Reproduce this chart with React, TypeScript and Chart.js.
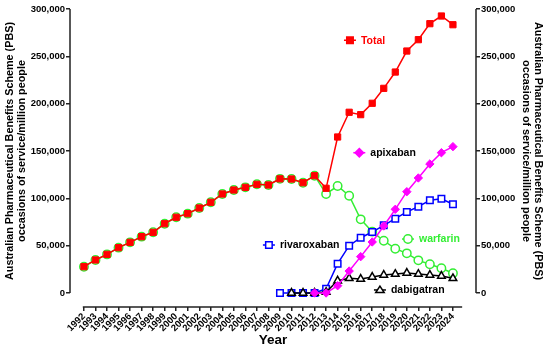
import React, { useEffect, useRef } from 'react';
import { Chart, registerables } from 'chart.js';

Chart.register(...registerables);

const years = [
  1992, 1993, 1994, 1995, 1996, 1997, 1998, 1999, 2000, 2001, 2002, 2003, 2004, 2005, 2006, 2007,
  2008, 2009, 2010, 2011, 2012, 2013, 2014, 2015, 2016, 2017, 2018, 2019, 2020, 2021, 2022, 2023, 2024,
];

const total = [
  27800, 34900, 40800, 47900, 53500, 59500, 64100, 73200, 80000, 83800, 89800, 95800, 104600, 108800,
  111600, 114800, 114100, 120600, 120400, 116500, 123900, 110600, 164800, 190900, 188400, 200400,
  216200, 233400, 255600, 267600, 284500, 292600, 283400,
];

const warfarin = [
  27800, 34900, 40800, 47900, 53500, 59500, 64100, 73200, 80000, 83800, 89800, 95800, 104600, 108800,
  111600, 114800, 114100, 120600, 120400, 116500, 123900, 104600, 113000, 102800, 77800, 64800,
  55200, 46800, 41900, 34500, 30300, 26100, 20800,
];

const rivaroxaban = [
  null, null, null, null, null, null, null, null, null, null, null, null, null, null, null, null,
  null, 0, 0, 0, 0, 4500, 31000, 50000, 58400, 64400, 71500, 78500, 85600, 91200, 97900, 99600, 93700,
];

const apixaban = [
  null, null, null, null, null, null, null, null, null, null, null, null, null, null, null, null,
  null, null, null, null, 0, 0, 7700, 23200, 38400, 53900, 70800, 88400, 107000, 121500, 136300,
  148200, 154600,
];

const dabigatran = [
  null, null, null, null, null, null, null, null, null, null, null, null, null, null, null, null,
  null, null, 0, 0, 0, 1000, 13000, 15500, 14800, 16900, 19000, 20000, 21100, 20000, 19000, 18000, 15500,
];

const yTicks = [0, 50000, 100000, 150000, 200000, 250000, 300000];
const yTitle = ['Australian Pharmaceutical Benefits Scheme (PBS)', 'occasions of service/million people'];
const xTitle = 'Year';

const RED = '#ff0000';
const GREEN = '#33ee33';
const BLUE = '#0000ff';
const MAGENTA = '#ff00ff';
const BLACK = '#000000';
const AXIS = '#222222';
const FONT = "'Liberation Sans', Arial, sans-serif";

type Note = { text: string; year: number; value: number; color: string; textColor: string; shape: string; fill: boolean };

const notes: Note[] = [
  { text: 'Total', year: 2015.07, value: 267000, color: RED, textColor: RED, shape: 'rect', fill: true },
  { text: 'apixaban', year: 2015.88, value: 148200, color: MAGENTA, textColor: BLACK, shape: 'rectRot', fill: true },
  { text: 'rivaroxaban', year: 2008.04, value: 50700, color: BLUE, textColor: BLACK, shape: 'rect', fill: false },
  { text: 'warfarin', year: 2020.1, value: 57000, color: GREEN, textColor: GREEN, shape: 'circle', fill: false },
  { text: 'dabigatran', year: 2017.67, value: 3200, color: BLACK, textColor: BLACK, shape: 'triangle', fill: false },
];

function toPoints(vals: (number | null)[]) {
  return years.map((y, i) => ({ x: y, y: vals[i] }));
}

function shapePath(ctx: CanvasRenderingContext2D, shape: string, x: number, y: number, r: number) {
  ctx.beginPath();
  if (shape === 'rect') {
    const s = r * Math.SQRT1_2;
    ctx.rect(x - s, y - s, 2 * s, 2 * s);
  } else if (shape === 'rectRot') {
    ctx.moveTo(x, y - r);
    ctx.lineTo(x + r, y);
    ctx.lineTo(x, y + r);
    ctx.lineTo(x - r, y);
    ctx.closePath();
  } else if (shape === 'circle') {
    ctx.arc(x, y, r, 0, Math.PI * 2);
  } else {
    const h = r * 1.5;
    ctx.moveTo(x, y - h * 0.6);
    ctx.lineTo(x + r, y + h * 0.4);
    ctx.lineTo(x - r, y + h * 0.4);
    ctx.closePath();
  }
}

const decorPlugin = {
  id: 'decor',
  afterDraw(chart: any) {
    const ctx: CanvasRenderingContext2D = chart.ctx;
    const xs = chart.scales.x;
    const ys = chart.scales.y;
    const area = chart.chartArea;
    const y0 = ys.getPixelForValue(0);
    const yTop = ys.getPixelForValue(300000);
    ctx.save();
    ctx.strokeStyle = AXIS;
    ctx.lineWidth = 1.5;
    ctx.beginPath();
    ctx.moveTo(area.left, yTop);
    ctx.lineTo(area.left, y0);
    ctx.moveTo(area.right, yTop);
    ctx.lineTo(area.right, y0);
    ctx.moveTo(xs.getPixelForValue(1991.9), area.bottom);
    ctx.lineTo(xs.getPixelForValue(2024.8), area.bottom);
    ctx.stroke();

    // y titles
    ctx.fillStyle = BLACK;
    ctx.font = `bold 10.8px ${FONT}`;
    ctx.textAlign = 'center';
    ctx.textBaseline = 'middle';
    const cy = (y0 + yTop) / 2;
    ctx.save();
    ctx.translate(10, cy);
    ctx.rotate(-Math.PI / 2);
    ctx.fillText(yTitle[0], 0, 0);
    ctx.fillText(yTitle[1], 0, 12);
    ctx.restore();
    ctx.save();
    ctx.translate(538, cy);
    ctx.rotate(Math.PI / 2);
    ctx.fillText(yTitle[0], 0, 0);
    ctx.fillText(yTitle[1], 0, 12);
    ctx.restore();

    // inline legend labels
    ctx.font = `bold 10.5px ${FONT}`;
    ctx.textAlign = 'left';
    for (const n of notes) {
      const px = xs.getPixelForValue(n.year);
      const py = ys.getPixelForValue(n.value);
      ctx.strokeStyle = n.color;
      ctx.lineWidth = 1.5;
      ctx.beginPath();
      ctx.moveTo(px - 6, py);
      ctx.lineTo(px + 6, py);
      ctx.stroke();
      shapePath(ctx, n.shape, px, py, n.shape === 'rect' ? 4.6 : 4.2);
      ctx.fillStyle = n.fill ? n.color : '#ffffff';
      ctx.fill();
      ctx.stroke();
      ctx.fillStyle = n.textColor;
      ctx.fillText(n.text, px + 11, py + 0.5);
    }
    ctx.restore();
  },
};

export default function App() {
  const ref = useRef<HTMLCanvasElement | null>(null);
  useEffect(() => {
    document.body.style.margin = '0';
    if (!ref.current) return;
    const tickFont = { family: FONT, size: 9.5, weight: 'bold' as const };
    const chart = new Chart(ref.current, {
      type: 'line',
      data: {
        datasets: [
          {
            label: 'Total', data: toPoints(total), borderColor: RED, backgroundColor: RED,
            pointStyle: 'rect', pointRadius: 4.4, pointBorderWidth: 1, borderWidth: 1.5, order: 0,
          },
          {
            label: 'apixaban', data: toPoints(apixaban), borderColor: MAGENTA, backgroundColor: MAGENTA,
            pointStyle: 'rectRot', pointRadius: 4.2, pointBorderWidth: 1, borderWidth: 1.5, order: 1,
          },
          {
            label: 'dabigatran', data: toPoints(dabigatran), borderColor: BLACK, backgroundColor: '#ffffff',
            pointStyle: 'triangle', pointRadius: 4.4, pointBorderWidth: 1.5, borderWidth: 1.5, order: 2,
          },
          {
            label: 'rivaroxaban', data: toPoints(rivaroxaban), borderColor: BLUE, backgroundColor: '#ffffff',
            pointStyle: 'rect', pointRadius: 4.6, pointBorderWidth: 1.5, borderWidth: 1.5, order: 3,
          },
          {
            label: 'warfarin', data: toPoints(warfarin), borderColor: GREEN, backgroundColor: '#ffffff',
            pointStyle: 'circle', pointRadius: 4.2, pointBorderWidth: 1.5, borderWidth: 1.5, order: 4,
          },
        ],
      },
      options: {
        animation: false,
        responsive: false,
        parsing: true,
        layout: { padding: { top: 9, left: 0, right: 0, bottom: 0 } },
        plugins: { legend: { display: false }, tooltip: { enabled: false } },
        elements: { line: { tension: 0 } },
        scales: {
          x: {
            type: 'linear',
            min: 1990.79,
            max: 2026.0,
            afterBuildTicks: (s: any) => { s.ticks = years.map((v) => ({ value: v })); },
            afterFit: (s: any) => { s.height = 42; },
            ticks: {
              autoSkip: false, minRotation: 45, maxRotation: 45, padding: 0,
              color: BLACK, font: tickFont, callback: (v: any) => String(v),
            },
            grid: { display: true, drawOnChartArea: false, drawTicks: true, tickLength: 4, color: AXIS, lineWidth: 1.5 },
            border: { display: false },
            title: { display: true, text: xTitle, color: BLACK, font: { family: FONT, size: 13.5, weight: 'bold' }, padding: { top: 0, bottom: 1 } },
          },
          y: {
            type: 'linear',
            position: 'left',
            min: -14790,
            max: 300000,
            afterBuildTicks: (s: any) => { s.ticks = yTicks.map((v) => ({ value: v })); },
            afterFit: (s: any) => { s.width = 70; },
            ticks: { color: BLACK, font: tickFont, padding: 1, callback: (v: any) => Number(v).toLocaleString('en-US') },
            grid: { display: true, drawOnChartArea: false, drawTicks: true, tickLength: 4, color: AXIS, lineWidth: 1.5 },
            border: { display: false },
          },
          y2: {
            type: 'linear',
            position: 'right',
            min: -14790,
            max: 300000,
            afterBuildTicks: (s: any) => { s.ticks = yTicks.map((v) => ({ value: v })); },
            afterFit: (s: any) => { s.width = 74; },
            ticks: { color: BLACK, font: tickFont, padding: 1, callback: (v: any) => Number(v).toLocaleString('en-US') },
            grid: { display: true, drawOnChartArea: false, drawTicks: true, tickLength: 4, color: AXIS, lineWidth: 1.5 },
            border: { display: false },
          },
        },
      },
      plugins: [decorPlugin],
    });
    return () => chart.destroy();
  }, []);
  return (
    <div style={{ width: 550, height: 349 }}>
      <canvas ref={ref} width={550} height={349} />
    </div>
  );
}
